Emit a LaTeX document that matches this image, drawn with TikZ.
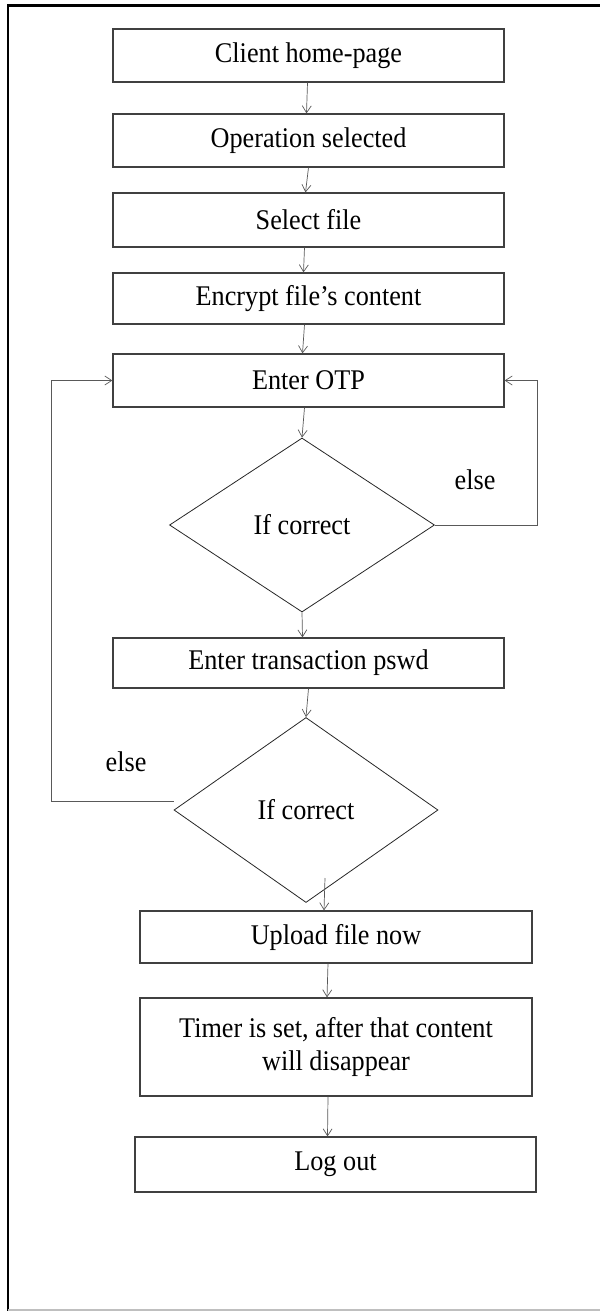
\documentclass[tikz,border=0pt]{standalone}
\usepackage{graphicx}
\usepackage{fontspec}
\setmainfont{Liberation Serif}
\usetikzlibrary{arrows.meta,shapes.geometric}
\newcommand\hsq[1]{\scalebox{0.92}[1]{#1}}
\begin{document}
\begin{tikzpicture}[x=1pt,y=-1pt,
  every node/.style={font=\fontsize{28.5}{33}\selectfont},
  box/.style={draw=black!75,line width=1.2pt,minimum width=391pt,inner sep=0pt,align=center},
  dia/.style={draw=black!85,line width=0.8pt,diamond,inner sep=0pt},
  arr/.style={draw=black!65,line width=0.7pt,-{Straight Barb[length=7pt,width=9pt]}},
  lbl/.style={inner sep=0pt}]
\useasboundingbox (0,0) rectangle (600,1311);
% frame
\draw[line width=2.4pt] (7.7,5.7) -- (600,5.7);
\draw[line width=2.4pt] (7.7,4.5) -- (7.7,1311);
\draw[black!25,line width=2pt] (7.7,1310) -- (600,1310);
% boxes
\node[box,minimum height=53pt] (b1) at (308.5,55.5) {\hsq{Client home-page}};
\node[box,minimum height=53pt] (b2) at (308.5,140.5) {\hsq{Operation selected}};
\node[box,minimum height=54pt] (b3) at (308.5,220) {\hsq{Select file}};
\node[box,minimum height=51pt] (b4) at (308.5,298.5) {\hsq{Encrypt file’s content}};
\node[box,minimum height=53pt] (b5) at (308.5,380.5) {\hsq{Enter OTP}};
\node[dia,minimum width=265pt,minimum height=174pt] (d1) at (302,525) {\hsq{If correct}};
\node[box,minimum height=50pt] (b6) at (308.5,663) {\hsq{Enter transaction pswd}};
\node[dia,minimum width=264pt,minimum height=185pt] (d2) at (306,810) {\hsq{If correct}};
\node[box,minimum width=392pt,minimum height=52pt] (b7) at (336,937) {\hsq{Upload file now}};
\node[box,minimum width=392pt,minimum height=98pt] (b8) at (336,1047) {\hsq{\begin{tabular}{@{}c@{}}Timer is set, after that content\\will disappear\end{tabular}}};
\node[box,minimum width=401pt,minimum height=55pt] (b9) at (335.5,1164.5) {\hsq{Log out}};
% labels
\node[lbl] (e1) at (475,480) {\hsq{else}};
\node[lbl] (e2) at (126,762) {\hsq{else}};
% connectors
\draw[arr] ([xshift=-1pt]b1.south) -- ([xshift=-2pt]b2.north);
\draw[arr] ([xshift=0pt]b2.south) -- ([xshift=-3pt]b3.north);
\draw[arr] ([xshift=-4pt]b3.south) -- ([xshift=-5pt]b4.north);
\draw[arr] ([xshift=-4pt]b4.south) -- ([xshift=-6pt]b5.north);
\draw[arr] ([xshift=-4pt]b5.south) -- (d1.north);
\draw[arr] (d1.south) -- ([xshift=-6pt]b6.north);
\draw[arr] ([xshift=0pt]b6.south) -- (d2.north);
\coordinate (a8) at (325,878);
\draw[arr] (a8) -- ([xshift=-12pt]b7.north);
\draw[arr] ([xshift=-8pt]b7.south) -- ([xshift=-9pt]b8.north);
\draw[arr] ([xshift=-8pt]b8.south) -- ([xshift=-8pt]b9.north);
\draw[arr] (d1.east) -- ++(102,0) |- (b5.east);
\draw[arr] ([yshift=9pt]d2.west) -- ++(-122,0) |- (b5.west);
\end{tikzpicture}
\end{document}
